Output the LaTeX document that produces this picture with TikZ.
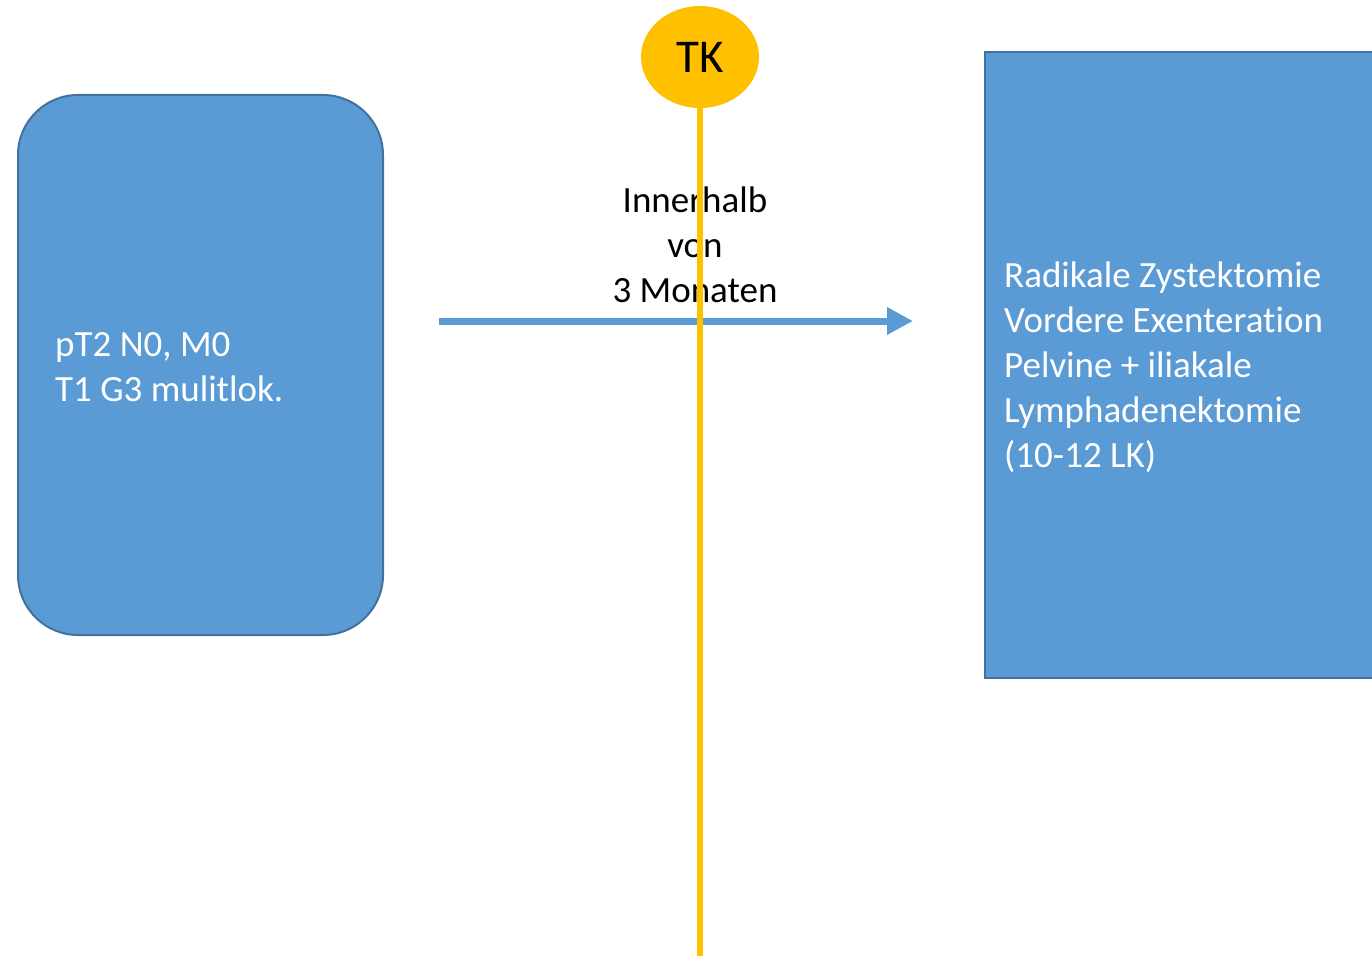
\documentclass[tikz,border=0pt]{standalone}
\usepackage{fontspec}
\setmainfont[RawFeature={-liga;-clig;-calt;-dlig}]{Carlito}
\usetikzlibrary{shapes.geometric,arrows.meta}
\definecolor{boxblue}{HTML}{5B9BD5}
\definecolor{boxedge}{HTML}{41719C}
\definecolor{tkyellow}{HTML}{FFC000}
\begin{document}
\begin{tikzpicture}[x=1pt,y=-1pt,
  bluebox/.style={draw=boxedge,line width=2pt,fill=boxblue,inner sep=0pt},
  boxtext/.style={anchor=west,inner sep=0pt,text=white,align=left,
    font=\fontsize{37}{45}\selectfont},
  midtext/.style={align=center,font=\fontsize{37}{45}\selectfont,text=black},
  tkstyle/.style={ellipse,fill=tkyellow,minimum width=118pt,minimum height=102pt,inner sep=0pt,
    font=\fontsize{47}{50}\selectfont,text=black}]
\useasboundingbox (0,0) rectangle (1372,955);
\clip (0,0) rectangle (1372,955);
% left box
\node[bluebox,rounded corners=60pt,minimum width=365pt,minimum height=540pt] (left) at (200.5,365) {};
\node[boxtext] (lefttext) at (55,367) {pT2 N0, M0\\T1 G3 mulitlok.};
% right box
\node[bluebox,anchor=west,minimum width=420pt,minimum height=626pt] (right) at (984,365) {};
\node[boxtext] (righttext) at (1004,367) {Radikale Zystektomie\\Vordere Exenteration\\Pelvine + iliakale\\Lymphadenektomie\\(10-12 LK)};
% arrow
\coordinate (astart) at (439,321);
\coordinate (aend) at (913,321);
\draw[boxblue,line width=7pt,-{Triangle[length=26pt,width=26pt]}] (astart) -- (aend);
% mid text
\node[midtext] (mid) at (695,245) {Innerhalb\\von\\3 Monaten};
% TK
\node[tkstyle] (tk) at (700,57) {TK};
\coordinate (tkend) at (700,960);
\draw[tkyellow,line width=6pt] (tk.south) -- (tkend);
\end{tikzpicture}
\end{document}
